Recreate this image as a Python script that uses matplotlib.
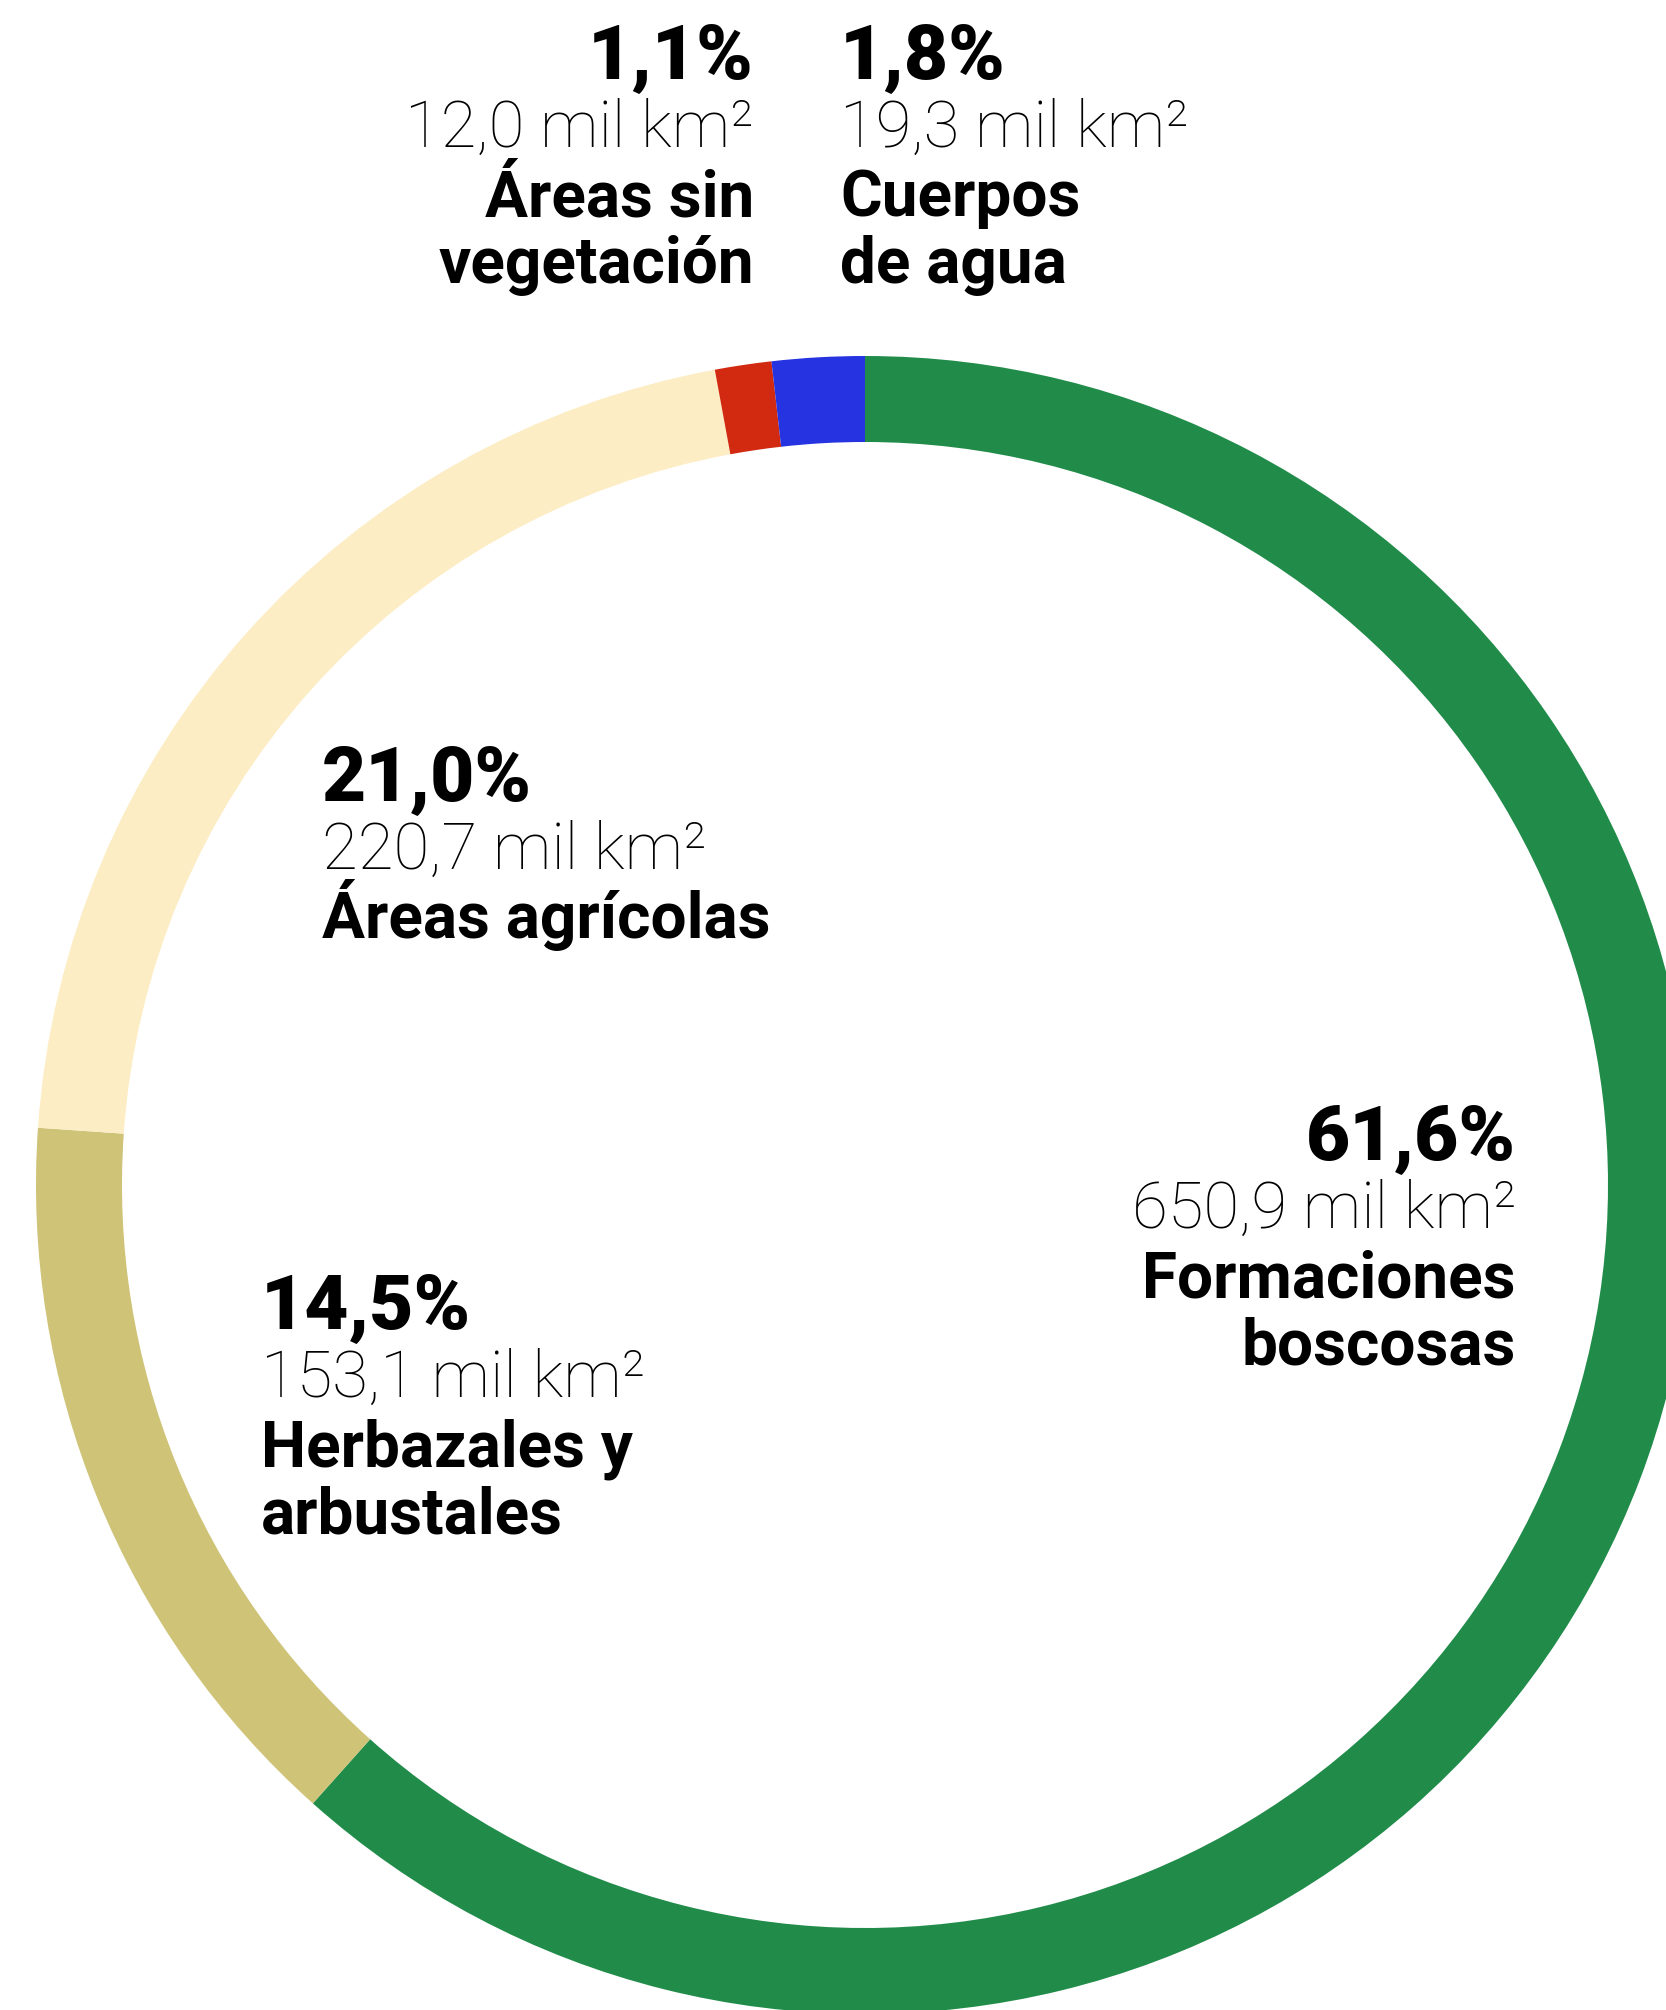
import matplotlib.pyplot as plt

# Cobertura del suelo: porcentaje y superficie (mil km²)
categorias = ["Formaciones\nboscosas", "Herbazales y\narbustales", "Áreas agrícolas",
              "Áreas sin\nvegetación", "Cuerpos\nde agua"]
porcentajes = [61.6, 14.5, 21.0, 1.1, 1.8]
superficie = [650.9, 153.1, 220.7, 12.0, 19.3]
colores = ["#218C4A", "#CFC377", "#FDEDC4", "#D12A10", "#2633E0"]

W, H = 1666, 2010
fig = plt.figure(figsize=(W / 100, H / 100), dpi=100)
ax = fig.add_axes([0, 0, 1, 1])

cx, cy = 865, H - 1185
ax.pie(porcentajes, colors=colores, startangle=90, counterclock=False,
       radius=829, center=(cx, cy), wedgeprops=dict(width=86, linewidth=0))
ax.set_xlim(0, W)
ax.set_ylim(0, H)
ax.set_aspect("equal")
ax.axis("off")

# label anchors: x, baseline of first line, alignment
pos = [
    (1516, 1160, "right"),
    (261, 1329, "left"),
    (322, 801, "left"),
    (754, 79, "right"),
    (840, 79, "left"),
]
fam = ["Roboto", "DejaVu Sans"]
for cat, p, s, (x, yb, ha) in zip(categorias, porcentajes, superficie, pos):
    ax.text(x, H - yb, f"{p:.1f}".replace(".", ",") + "%", ha=ha, va="baseline",
            fontsize=55, fontweight="black", family=fam)
    ax.text(x, H - yb - 68, f"{s:.1f}".replace(".", ",") + " mil km²", ha=ha,
            va="baseline", fontsize=47, fontweight="light", color="black", family=fam)
    for i, linea in enumerate(cat.split("\n")):
        ax.text(x, H - yb - 137 - 67 * i, linea, ha=ha, va="baseline",
                fontsize=46, fontweight="bold", family=fam)

fig.savefig("out.png", dpi=100)
